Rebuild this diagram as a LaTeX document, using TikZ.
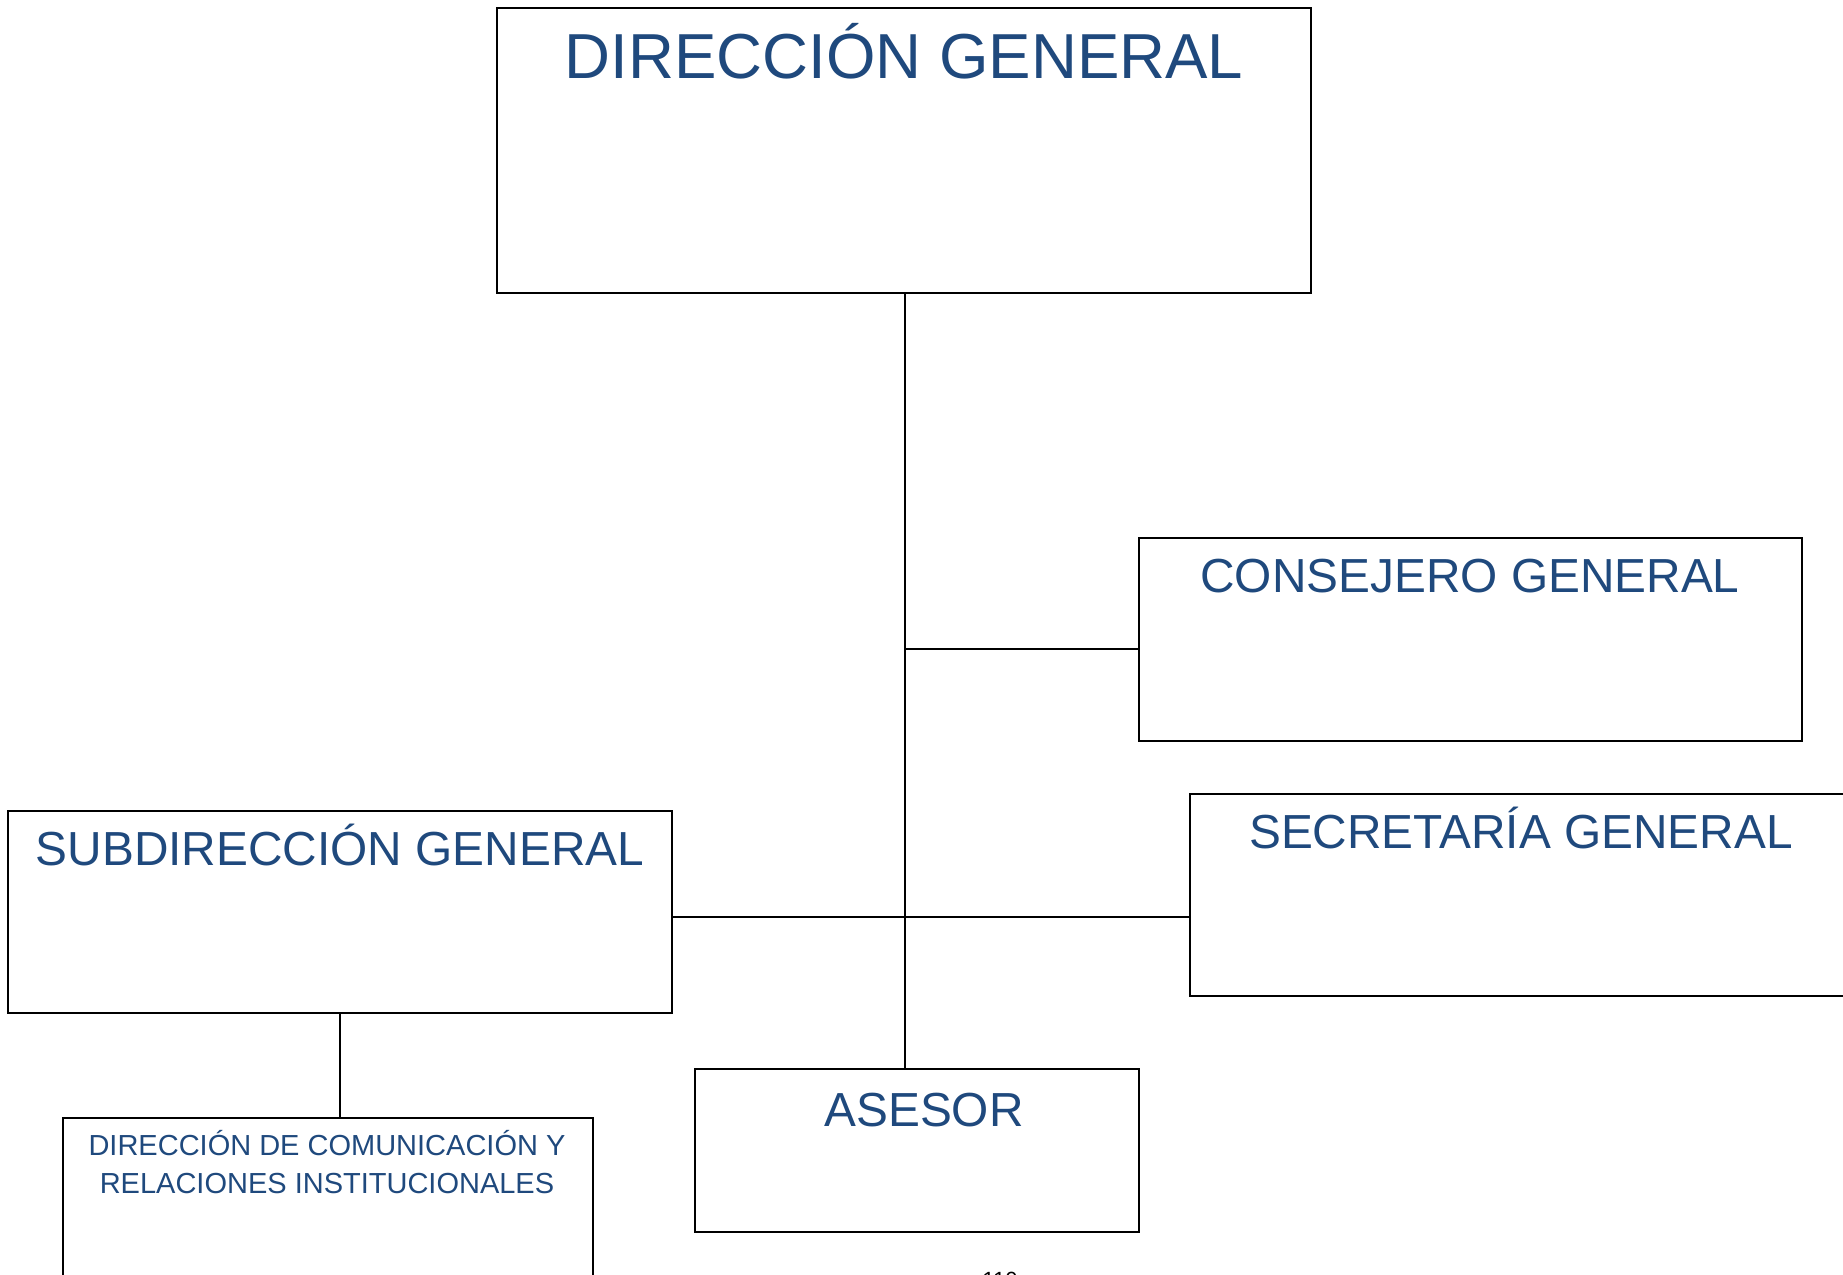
\documentclass[tikz,border=0pt]{standalone}
\usepackage{fontspec}
\setmainfont{Liberation Sans}
\definecolor{txtblue}{RGB}{31,73,125}
\begin{document}
\begin{tikzpicture}[x=0.5pt,y=-0.5pt,
  box/.style={draw=black,line width=1pt,rectangle,inner sep=0pt,anchor=north west},
  conn/.style={draw=black,line width=1pt},
  ttl/.style={text=txtblue,inner sep=0pt,anchor=base},
  big/.style={font=\fontsize{31.8pt}{36pt}\selectfont},
  mid/.style={font=\fontsize{23.9pt}{28pt}\selectfont},
  sml/.style={font=\fontsize{14.5pt}{17pt}\selectfont}]
\useasboundingbox (0,0) rectangle (1843,1275);
% boxes
\node[box,minimum width=407pt,minimum height=142.5pt] (dg) at (496,7) {};
\node[box,minimum width=331.5pt,minimum height=101.5pt] (cons) at (1138,537) {};
\node[box,minimum width=340.5pt,minimum height=101pt] (sec) at (1189,793) {};
\node[box,minimum width=332pt,minimum height=101pt] (sub) at (7,810) {};
\node[box,minimum width=222pt,minimum height=81.5pt] (ases) at (694,1068) {};
\node[box,minimum width=265pt,minimum height=91.5pt] (dcom) at (62,1117) {};
% titles
\node[ttl,big] (tdg) at (904,78) {DIRECCIÓN GENERAL};
\node[ttl,mid] (tcons) at (1470,592) {CONSEJERO GENERAL};
\node[ttl,mid] (tsec) at (1521,848) {SECRETARÍA GENERAL};
\node[ttl,mid] (tsub) at (340,865) {SUBDIRECCIÓN GENERAL};
\node[ttl,mid] (tases) at (924,1126) {ASESOR};
\node[ttl,sml] (tdc1) at (327,1155) {DIRECCIÓN DE COMUNICACIÓN Y};
\node[ttl,sml] (tdc2) at (327,1193) {RELACIONES INSTITUCIONALES};
\node[inner sep=0pt,anchor=base,font=\fontsize{11pt}{13pt}\selectfont] (pg) at (1000,1287) {110};
% connectors
\coordinate (j1) at (905,649);
\coordinate (j2) at (905,917);
\coordinate (top) at (dg.south -| j1);
\draw[conn] (top) -- (top |- ases.north);
\draw[conn] (j1) -- (j1 -| cons.west);
\draw[conn] (j2 -| sub.east) -- (j2 -| sec.west);
\draw[conn] (sub.south) -- (sub.south |- dcom.north);
\end{tikzpicture}
\end{document}
